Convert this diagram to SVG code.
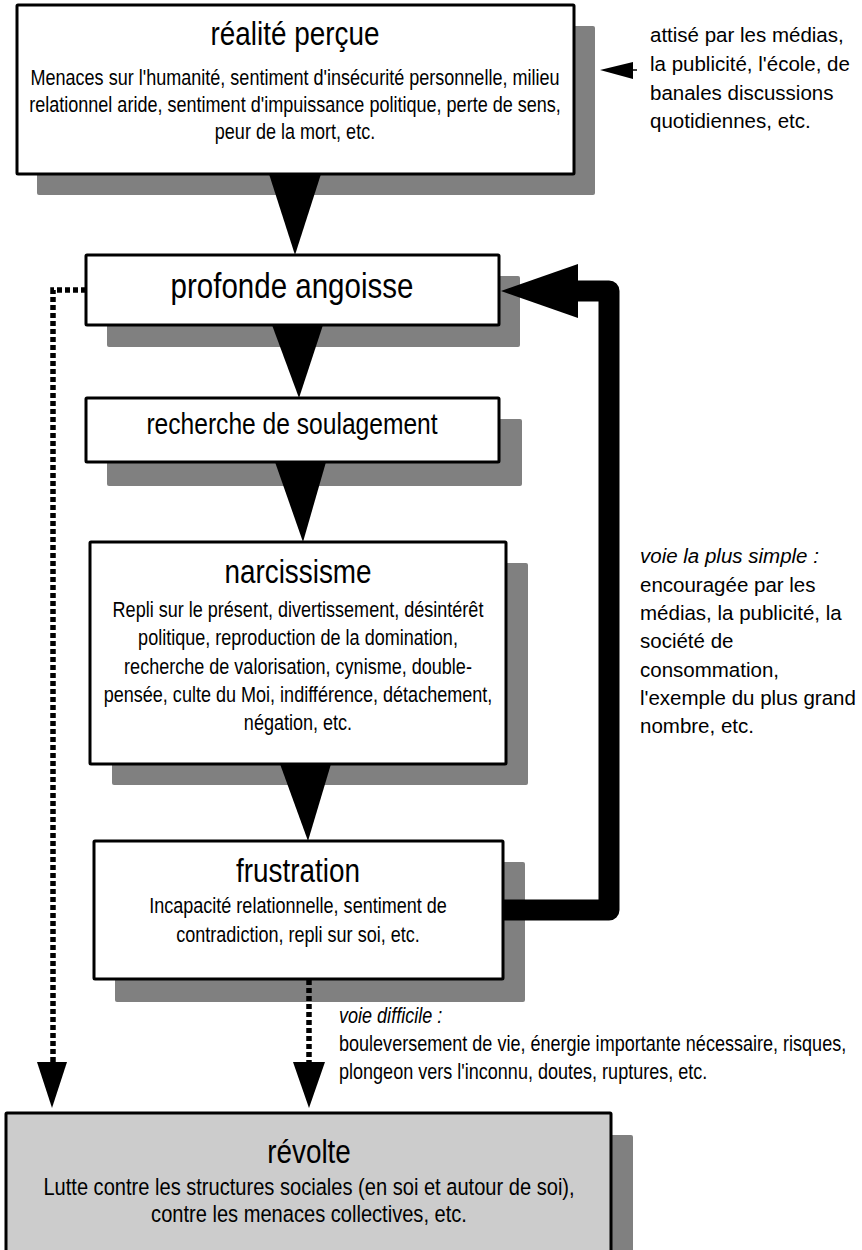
<svg xmlns="http://www.w3.org/2000/svg" width="862" height="1250" viewBox="0 0 862 1250">
<style>
.box{fill:#fff;stroke:#000;stroke-width:3}
.gbox{fill:#ccc;stroke:#000;stroke-width:3}
.sh{fill:#808080}
.tri{fill:#000}
.n{font-family:"Liberation Sans",Arial,sans-serif;fill:#000}
.s{font-family:"Liberation Sans",Arial,sans-serif;fill:#000;font-size:20.5px}
.t{font-size:34px;text-anchor:middle}
.b{font-size:22px;text-anchor:middle}
.i{font-style:italic}
.dot{fill:none;stroke:#000;stroke-width:5.5;stroke-dasharray:5 3}
</style>
<rect width="862" height="1250" fill="#fff"/>
<g id="shadows">
<rect class="sh" x="37" y="26" width="558" height="169" rx="2"/>
<rect class="sh" x="107" y="276" width="413" height="71" rx="2"/>
<rect class="sh" x="107" y="419" width="415" height="67" rx="2"/>
<rect class="sh" x="112" y="563" width="416" height="222" rx="2"/>
<rect class="sh" x="115" y="862" width="410" height="140" rx="2"/>
<rect class="sh" x="27" y="1135" width="606" height="140" rx="2"/>
</g>
<g id="connectors">
<polygon class="tri" points="269,174 321,174 295,255"/>
<polygon class="tri" points="272,325 323,325 299,398"/>
<polygon class="tri" points="275,462 326,462 303,542"/>
<polygon class="tri" points="280,764 331,764 308,841"/>
<path d="M503,910 H609 V291 H572" fill="none" stroke="#000" stroke-width="21" stroke-linejoin="round"/>
<polygon class="tri" points="501,291 578,264 578,318"/>
<path class="dot" d="M86,290 H53 V1064"/>
<polygon class="tri" points="37,1062 67,1062 52,1108"/>
<path class="dot" d="M309,980 V1064"/>
<polygon class="tri" points="293,1062 325,1062 309,1108"/>
<line x1="632" y1="70" x2="637" y2="70" stroke="#000" stroke-width="1.5"/>
<polygon class="tri" points="600,70 633,62 633,79"/>
</g>
<g id="realite">
<rect class="box" x="17" y="5" width="557" height="169" rx="1"/>
<text class="n t" transform="translate(295 0) scale(.82 1)" x="0" y="45">réalité perçue</text>
<text class="n b" transform="translate(295 0) scale(.82 1)" x="0" y="85">Menaces sur l'humanité, sentiment d'insécurité personnelle, milieu</text>
<text class="n b" transform="translate(295 0) scale(.82 1)" x="0" y="112">relationnel aride, sentiment d'impuissance politique, perte de sens,</text>
<text class="n b" transform="translate(295 0) scale(.82 1)" x="0" y="139">peur de la mort, etc.</text>
</g>
<g id="note-attise">
<text class="s" x="650" y="42">attisé par les médias,</text>
<text class="s" x="650" y="71">la publicité, l'école, de</text>
<text class="s" x="650" y="100">banales discussions</text>
<text class="s" x="650" y="128">quotidiennes, etc.</text>
</g>
<g id="angoisse">
<rect class="box" x="86" y="255" width="413" height="70" rx="1"/>
<text class="n" transform="translate(292 0) scale(.82 1)" x="0" y="298" font-size="36" text-anchor="middle">profonde angoisse</text>
</g>
<g id="soulagement">
<rect class="box" x="86" y="398" width="413" height="64" rx="1"/>
<text class="n" transform="translate(292 0) scale(.82 1)" x="0" y="434" font-size="30" text-anchor="middle">recherche de soulagement</text>
</g>
<g id="narcissisme">
<rect class="box" x="90" y="542" width="416" height="222" rx="1"/>
<text class="n t" transform="translate(298 0) scale(.82 1)" x="0" y="583">narcissisme</text>
<text class="n b" transform="translate(298 0) scale(.82 1)" x="0" y="617">Repli sur le présent, divertissement, désintérêt</text>
<text class="n b" transform="translate(298 0) scale(.82 1)" x="0" y="645">politique, reproduction de la domination,</text>
<text class="n b" transform="translate(298 0) scale(.82 1)" x="0" y="674">recherche de valorisation, cynisme, double-</text>
<text class="n b" transform="translate(298 0) scale(.82 1)" x="0" y="702">pensée, culte du Moi, indifférence, détachement,</text>
<text class="n b" transform="translate(298 0) scale(.82 1)" x="0" y="730">négation, etc.</text>
</g>
<g id="note-simple">
<text class="s i" x="640" y="563">voie la plus simple :</text>
<text class="s" x="640" y="592">encouragée par les</text>
<text class="s" x="640" y="620">médias, la publicité, la</text>
<text class="s" x="640" y="648">société de</text>
<text class="s" x="640" y="677">consommation,</text>
<text class="s" x="640" y="705">l'exemple du plus grand</text>
<text class="s" x="640" y="733">nombre, etc.</text>
</g>
<g id="frustration">
<rect class="box" x="94" y="841" width="409" height="138" rx="1"/>
<text class="n t" transform="translate(298 0) scale(.82 1)" x="0" y="882">frustration</text>
<text class="n b" transform="translate(298 0) scale(.82 1)" x="0" y="913">Incapacité relationnelle, sentiment de</text>
<text class="n b" transform="translate(298 0) scale(.82 1)" x="0" y="942">contradiction, repli sur soi, etc.</text>
</g>
<g id="note-difficile">
<text class="n i" transform="translate(339 0) scale(.82 1)" x="0" y="1023" font-size="22">voie difficile :</text>
<text class="n" transform="translate(339 0) scale(.82 1)" x="0" y="1051" font-size="22">bouleversement de vie, énergie importante nécessaire, risques,</text>
<text class="n" transform="translate(339 0) scale(.82 1)" x="0" y="1079" font-size="22">plongeon vers l'inconnu, doutes, ruptures, etc.</text>
</g>
<g id="revolte">
<rect class="gbox" x="6" y="1113" width="605" height="150" rx="1"/>
<text class="n t" transform="translate(309 0) scale(.82 1)" x="0" y="1163">révolte</text>
<text class="n" transform="translate(309 0) scale(.82 1)" x="0" y="1195" font-size="24.5" text-anchor="middle">Lutte contre les structures sociales (en soi et autour de soi),</text>
<text class="n" transform="translate(309 0) scale(.82 1)" x="0" y="1222" font-size="24.5" text-anchor="middle">contre les menaces collectives, etc.</text>
</g>
</svg>
